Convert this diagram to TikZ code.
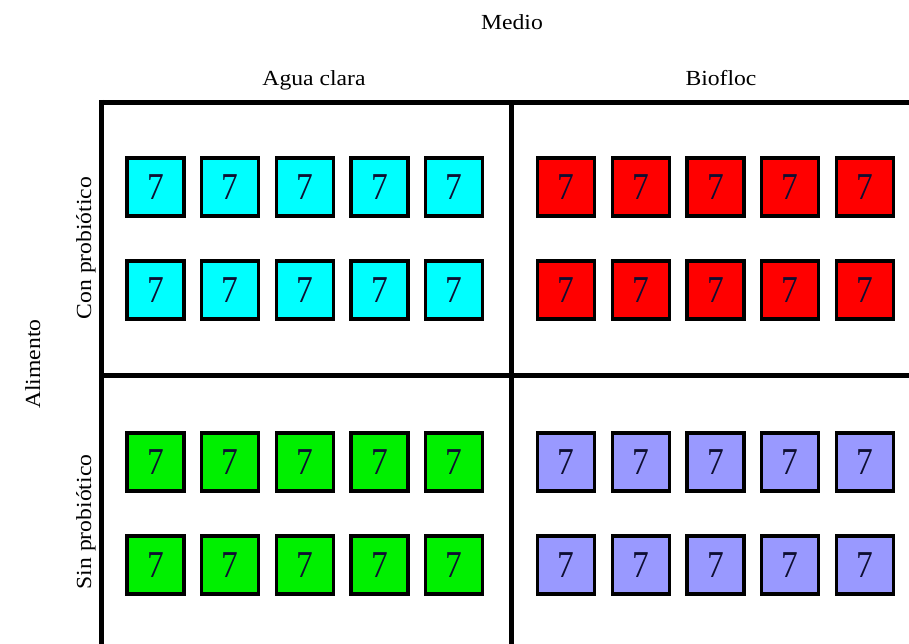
\documentclass[tikz,border=0pt]{standalone}
\usepackage{fontspec}
\setmainfont{Liberation Serif}
\definecolor{cyanbox}{RGB}{0,255,255}
\definecolor{redbox}{RGB}{255,0,0}
\definecolor{greenbox}{RGB}{0,240,0}
\definecolor{lavbox}{RGB}{153,153,255}
\definecolor{digitcol}{RGB}{15,15,50}
\newcommand{\wide}[1]{\scalebox{1.1}[1]{#1}}
\begin{document}
\begin{tikzpicture}[x=1pt,y=-1pt,
  tank/.style={draw=black, line width=3.8pt, minimum width=57pt, minimum height=58pt,
    inner sep=0pt, font=\fontsize{38}{44}\selectfont, text=digitcol},
  lab/.style={font=\fontsize{21.5}{26}\selectfont, anchor=base, inner sep=0pt},
  gridline/.style={line width=5.5pt}]
\useasboundingbox (0,0) rectangle (909,644);
\fill[white] (0,0) rectangle (909,644);

% frame
\draw[gridline] (101.5,100) -- (101.5,644);
\draw[gridline] (99,102.5) -- (909,102.5);
\draw[gridline] (511.5,102.5) -- (511.5,644);
\draw[gridline] (101.5,375.5) -- (909,375.5);

% labels
\node[lab] (medio) at (512,30) {\wide{Medio}};
\node[lab] (agua) at (314,86) {\wide{Agua clara}};
\node[lab] (biofloc) at (721,86) {\wide{Biofloc}};
\node[lab, rotate=90] (alimento) at (40,364) {\wide{Alimento}};
\node[lab, rotate=90] (con) at (91,248) {\wide{Con probiótico}};
\node[lab, rotate=90] (sin) at (91,522) {\wide{Sin probiótico}};

% tanks
\foreach \cx [count=\i] in {155.5,230,305,379.5,454} {
  \node[tank, fill=cyanbox] (ca\i) at (\cx,187) {\scalebox{0.88}[1]{7}};
  \node[tank, fill=cyanbox] (cb\i) at (\cx,290) {\scalebox{0.88}[1]{7}};
  \node[tank, fill=greenbox] (sa\i) at (\cx,462) {\scalebox{0.88}[1]{7}};
  \node[tank, fill=greenbox] (sb\i) at (\cx,565) {\scalebox{0.88}[1]{7}};
}
\foreach \cx [count=\i] in {566,641,715.5,790,865} {
  \node[tank, fill=redbox] (ra\i) at (\cx,187) {\scalebox{0.88}[1]{7}};
  \node[tank, fill=redbox] (rb\i) at (\cx,290) {\scalebox{0.88}[1]{7}};
  \node[tank, fill=lavbox] (la\i) at (\cx,462) {\scalebox{0.88}[1]{7}};
  \node[tank, fill=lavbox] (lb\i) at (\cx,565) {\scalebox{0.88}[1]{7}};
}
\end{tikzpicture}
\end{document}
